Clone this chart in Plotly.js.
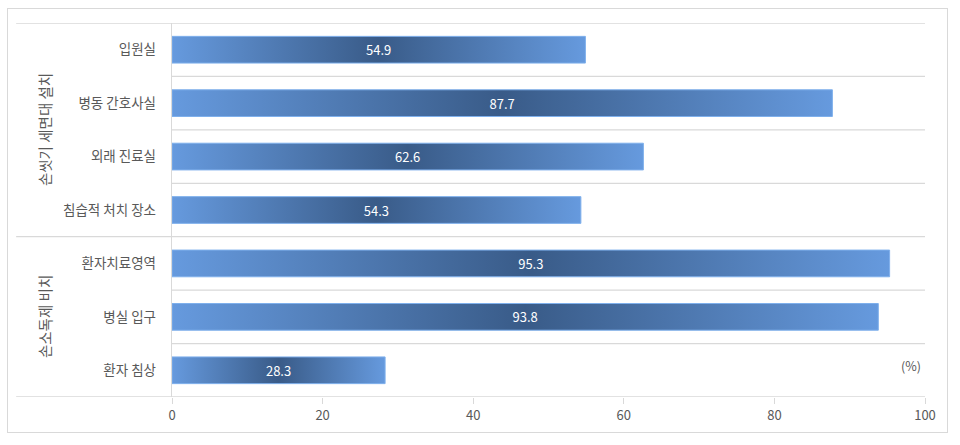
<!DOCTYPE html>
<html>
<head>
<meta charset="utf-8">
<script src="https://cdn.plot.ly/plotly-3.0.1.min.js"></script>
<style>
  html, body { margin: 0; padding: 0; background: #fff; }
  #wrap { position: relative; width: 960px; height: 445px; }
  #chart { position: absolute; left: 0; top: 0; width: 960px; height: 445px; }
  #frame { position: absolute; left: 7px; top: 8px; width: 941px; height: 425px;
           box-sizing: border-box; border: 1px solid #d9d9d9; pointer-events: none; }
</style>
</head>
<body>
<div id="wrap">
  <div id="chart"></div>
  <div id="frame"></div>
</div>
<script>
// ---- data ----
const categories = ["입원실", "병동 간호사실", "외래 진료실", "침습적 처치 장소", "환자치료영역", "병실 입구", "환자 침상"];
const values = [54.9, 87.7, 62.6, 54.3, 95.3, 93.8, 28.3];
const groupNames = ["손씻기 세면대 설치", "손소독제 비치"];
const groupSizes = [4, 3];
const xTicks = [0, 20, 40, 60, 80, 100];
const unitLabel = "(%)";

const FONT = '"Noto Sans CJK KR", "Noto Sans", sans-serif';
const GRID = '#d9d9d9';
const TXT = '#595959';

// separators between categories
const shapes = [];
const n = categories.length;
const groupEdges = [-0.5];
let acc = -0.5;
groupSizes.forEach(s => { acc += s; groupEdges.push(acc); });
for (let i = 0; i <= n; i++) {
  const yv = i - 0.5;
  const isGroupEdge = groupEdges.some(e => Math.abs(e - yv) < 1e-9);
  shapes.push({
    type: 'line', xref: 'paper', yref: 'y',
    x0: isGroupEdge ? -0.207 : 0, x1: 1, y0: yv, y1: yv,
    line: { color: GRID, width: 1.3 }, layer: 'below'
  });
}

// group labels
const annotations = [];
let start = 0;
groupSizes.forEach((s, gi) => {
  annotations.push({
    xref: 'paper', yref: 'y', x: -0.185, y: start + (s - 1) / 2,
    text: groupNames[gi], textangle: -90, showarrow: false,
    font: { family: FONT, size: 14.5, color: TXT }
  });
  start += s;
});
annotations.push({
  xref: 'paper', yref: 'paper', x: 0.997, y: 0.053, text: unitLabel,
  showarrow: false, font: { family: FONT, size: 12.5, color: TXT }
});

const trace = {
  type: 'bar', orientation: 'h',
  y: categories, x: values,
  text: values.map(v => v.toFixed(1)),
  textposition: 'inside', insidetextanchor: 'middle',
  constraintext: 'none',
  textfont: { family: FONT, size: 13, color: '#ffffff' },
  marker: { color: '#5a88c6', line: { color: '#7fb0ec', width: 1 } },
  width: 0.5, hoverinfo: 'none'
};

const layout = {
  width: 960, height: 445,
  margin: { l: 172, r: 35, t: 23, b: 48 },
  paper_bgcolor: 'rgba(0,0,0,0)', plot_bgcolor: 'rgba(0,0,0,0)',
  showlegend: false,
  font: { family: FONT, color: TXT },
  xaxis: {
    range: [0, 100], tickvals: xTicks, ticktext: xTicks.map(String),
    showgrid: false, zeroline: false, showline: false,
    ticks: 'outside', ticklen: 6, tickcolor: GRID, tickwidth: 1,
    tickfont: { family: FONT, size: 13, color: TXT }
  },
  yaxis: {
    type: 'category', range: [n - 0.5, -0.5],
    showgrid: false, zeroline: false,
    showline: true, linecolor: GRID, linewidth: 1.3,
    ticks: '', ticklabelstandoff: 12,
    tickfont: { family: FONT, size: 13.5, color: TXT }
  },
  shapes: shapes, annotations: annotations
};

Plotly.newPlot('chart', [trace], layout, { staticPlot: true, displayModeBar: false }).then(gd => {
  const svg = gd.querySelector('svg.main-svg');
  const NS = 'http://www.w3.org/2000/svg';
  let defs = svg.querySelector('defs');
  if (!defs) { defs = document.createElementNS(NS, 'defs'); svg.insertBefore(defs, svg.firstChild); }
  const grad = document.createElementNS(NS, 'linearGradient');
  grad.setAttribute('id', 'barGrad');
  grad.setAttribute('x1', '0'); grad.setAttribute('y1', '0');
  grad.setAttribute('x2', '1'); grad.setAttribute('y2', '0');
  [['0', '#669ade'], ['0.5', '#395b88'], ['1', '#669ade']].forEach(([o, c]) => {
    const st = document.createElementNS(NS, 'stop');
    st.setAttribute('offset', o); st.setAttribute('stop-color', c);
    grad.appendChild(st);
  });
  defs.appendChild(grad);
  gd.querySelectorAll('.bars .point path').forEach(p => {
    p.style.fill = 'url(#barGrad)';
    p.style.fillOpacity = 1;
  });
});
</script>
</body>
</html>
